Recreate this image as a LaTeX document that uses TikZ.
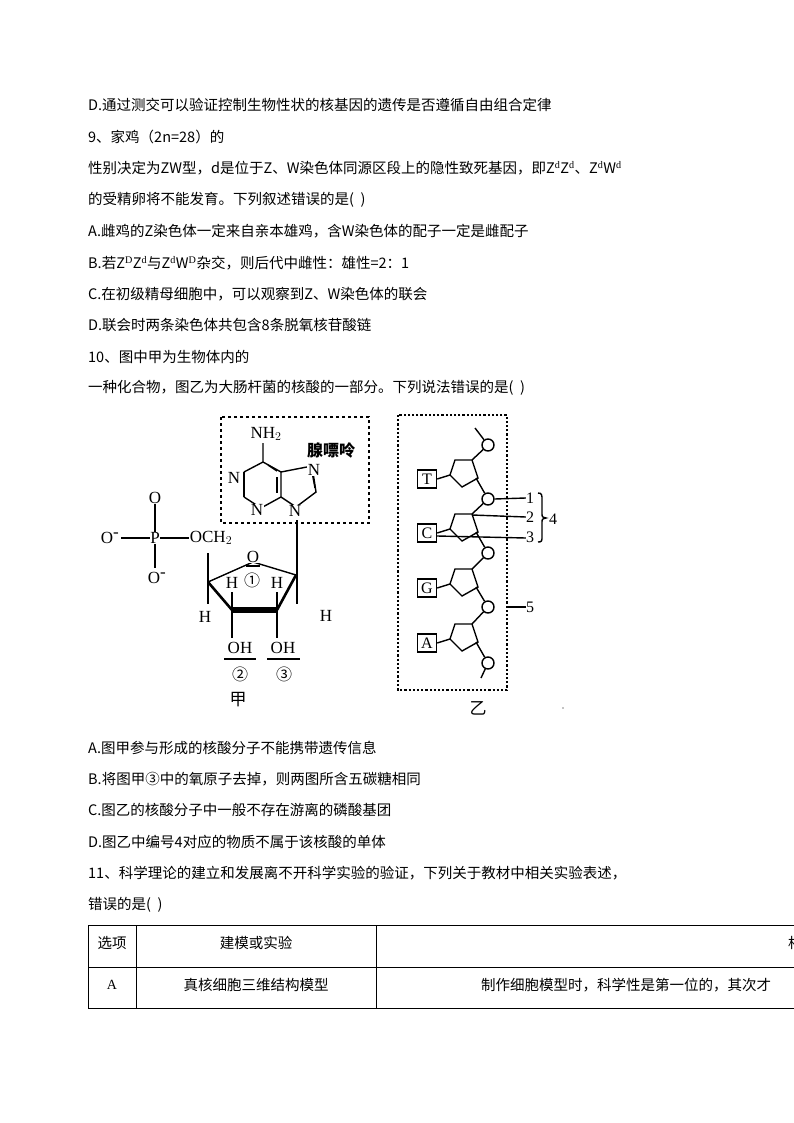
\documentclass[tikz,border=0pt]{standalone}
\usepackage{fontspec}
\setmainfont{Liberation Serif}
\newfontfamily\cjk{Noto Sans CJK SC}
\begin{document}
\begin{tikzpicture}[x=1pt,y=-1pt,
  tx/.style={anchor=west,inner sep=0,font=\cjk\fontsize{14.5}{16}\selectfont},
  ch/.style={inner sep=0,font=\fontsize{17}{17}\selectfont},
  lb/.style={inner sep=0,font=\fontsize{16}{16}\selectfont},
  cn/.style={inner sep=0,font=\cjk\fontsize{16}{16}\selectfont},
  thin/.style={line width=1.4pt},
  pho/.style={circle,draw,line width=1.4pt,minimum size=12pt,inner sep=0},
  base/.style={draw,line width=1.4pt,minimum width=19pt,minimum height=18pt,inner sep=0,font=\fontsize{16}{16}\selectfont}]
\useasboundingbox (0,0) rectangle (794,1123);
\fill[white] (0,0) rectangle (794,1123);
% text lines
\node[tx] (l1) at (88,105) {D.通过测交可以验证控制生物性状的核基因的遗传是否遵循自由组合定律};
\node[tx] (l2) at (88,137) {9、家鸡（2n=28）的};
\node[tx] (l3) at (88,168) {性别决定为ZW型，d是位于Z、W染色体同源区段上的隐性致死基因，即Z$^{\mathrm d}$Z$^{\mathrm d}$、Z$^{\mathrm d}$W$^{\mathrm d}$};
\node[tx] (l4) at (88,200) {的受精卵将不能发育。下列叙述错误的是(\ \ )};
\node[tx] (l5) at (88,231) {A.雌鸡的Z染色体一定来自亲本雄鸡，含W染色体的配子一定是雌配子};
\node[tx] (l6) at (88,263) {B.若Z$^{\mathrm D}$Z$^{\mathrm d}$与Z$^{\mathrm d}$W$^{\mathrm D}$杂交，则后代中雌性：雄性=2：1};
\node[tx] (l7) at (88,294) {C.在初级精母细胞中，可以观察到Z、W染色体的联会};
\node[tx] (l8) at (88,325) {D.联会时两条染色体共包含8条脱氧核苷酸链};
\node[tx] (l9) at (88,357) {10、图中甲为生物体内的};
\node[tx] (l10) at (88,388) {一种化合物，图乙为大肠杆菌的核酸的一部分。下列说法错误的是(\ \ )};
% ---------- 甲 ----------
\draw[dashed,line width=2pt] (221,417) rectangle (369,523);
\node[ch] (nh2) at (266,434) {NH$_2$};
\node[inner sep=0,font=\cjk\bfseries\fontsize{16}{16}\selectfont] (xpl) at (331,450) {腺嘌呤};
\coordinate (c6) at (263,462);
\coordinate (n1) at (244,472);
\coordinate (c2) at (244,497);
\coordinate (n3) at (261,508);
\coordinate (c4) at (281,497);
\coordinate (c5) at (281,472);
\coordinate (n7) at (312,466);
\coordinate (c8) at (316,492);
\coordinate (n9) at (296,507);
\draw[thin] (263,443) -- (c6) -- (n1);
\draw[thin] (c2) -- (n3) -- (c4) -- (c5) -- (c6);
\draw[thin] (n1) -- (c2);
\draw[thin] (c5) -- (n7) -- (c8) -- (n9) -- (c4);
\draw[thin] (268,465) -- (277,471);
\draw[thin] (312,472) -- (315,488);
\draw[thin] (277,477) -- (277,493);
\node[ch,fill=white,inner sep=0.5pt] (tn1) at (234,478) {N};
\node[ch,fill=white,inner sep=0.5pt] (tn3) at (257,510) {N};
\node[ch,fill=white,inner sep=0.5pt] (tn7) at (314,470) {N};
\node[ch,fill=white,inner sep=0.5pt] (tn9) at (295,511) {N};
% sugar
\coordinate (s4) at (208,582);
\coordinate (so) at (253,562);
\coordinate (s1) at (296,575);
\coordinate (s2) at (277,610);
\coordinate (s3) at (232,610);
\draw[thin] (297,520) -- (297,604);
\draw[thin] (s4) -- (so) -- (s1);
\draw[line width=2.6pt] (s4) -- (s3);
\draw[line width=2.6pt] (s1) -- (s2);
\draw[line width=5.5pt] (s3) -- (s2);
\node[ch,fill=white,inner sep=0.5pt] (to) at (253,557) {O};
\draw[thin] (246,566) -- (260,566);
\node[cn] (c1n) at (252,580) {①};
\draw[thin] (208,553) -- (s4) -- (208,604);
\node[ch] (h1) at (205,617) {H};
\node[ch] (h2) at (326,616) {H};
\draw[thin] (s3) -- (232,592);
\draw[thin] (s2) -- (277,592);
\node[ch] (h3) at (232,583) {H};
\node[ch] (h4) at (277,583) {H};
\draw[thin] (s3) -- (232,638);
\draw[thin] (s2) -- (277,638);
\node[ch] (oh1) at (240,648) {OH};
\node[ch] (oh2) at (283,648) {OH};
\draw[thin] (224,659) -- (256,659);
\draw[thin] (267,659) -- (300,659);
\node[cn] (n2) at (240,674) {②};
\node[cn] (n3c) at (284,674) {③};
\node[inner sep=0,font=\cjk\fontsize{17}{17}\selectfont] (jia) at (238,700) {甲};
% phosphate
\node[ch] (och2) at (211,538) {OCH$_2$};
\node[ch] (pp) at (155,538) {P};
\node[ch] (om) at (110,538) {O$^{\mbox{-}}$};
\node[ch] (ot) at (155,498) {O};
\node[ch] (ob) at (157,578) {O$^{\mbox{-}}$};
\draw[line width=2pt] (om.east) ++(2,0) -- (pp.west);
\draw[line width=2pt] (pp.east) -- ([xshift=-1pt]och2.west);
\draw[line width=2.6pt] (ot.south) -- (pp.north);
\draw[thin] (pp.south) -- (155,568);
% ---------- 乙 ----------
\draw[dotted,line width=2.2pt] (398,415) rectangle (507,690);
\foreach \i/\b/\y in {0/T/0,1/C/54,2/G/109,3/A/164}{
  \begin{scope}[yshift=-\y]
  \draw[thin] (455,460) -- (472,460) -- (478,478) -- (462,487) -- (450,475) -- cycle;
  \node[base] (b\i) at (427,479) {\b};
  \draw[thin] (b\i.east) -- (450,475);
  \end{scope}
}
\node[pho] (p0) at (488,445) {};
\node[pho] (p1) at (488,499) {};
\node[pho] (p2) at (488,553) {};
\node[pho] (p3) at (488,607) {};
\node[pho] (p4) at (488,663) {};
\draw[thin] (475,428) -- (p0);
\draw[thin] (p0) -- (472,460);
\draw[thin] (476,478) -- (p1);
\draw[thin] (p1) -- (472,514);
\draw[thin] (476,532) -- (p2);
\draw[thin] (p2) -- (472,569);
\draw[thin] (476,587) -- (p3);
\draw[thin] (p3) -- (472,624);
\draw[thin] (476,642) -- (p4);
\draw[thin] (p4) -- (481,678);
\node[lb] (t1) at (530,498) {1};
\node[lb] (t2) at (530,517) {2};
\node[lb] (t3) at (530,537) {3};
\node[lb] (t5) at (530,607) {5};
\node[lb] (t4) at (553,519) {4};
\draw[thin] (p1.east) -- (t1.west);
\draw[thin] (472,515) -- (t2.west);
\draw[thin] (b1.east) ++(0,3) -- ([yshift=-1pt]t3.west);
\draw[thin] (508,607) -- (t5.west);
\draw[thin] (538,493) .. controls (542,493) and (542,495) .. (542,500) -- (542,513) .. controls (542,517) .. (546,518) .. controls (542,519) .. (542,523) -- (542,536) .. controls (542,541) and (542,542) .. (538,542);
\node[inner sep=0,font=\cjk\fontsize{17}{17}\selectfont] (yi) at (478,708) {乙};
\fill (563,708) circle (0.6);
% options
\node[tx] (a1) at (88,748) {A.图甲参与形成的核酸分子不能携带遗传信息};
\node[tx] (a2) at (88,779) {B.将图甲③中的氧原子去掉，则两图所含五碳糖相同};
\node[tx] (a3) at (88,810) {C.图乙的核酸分子中一般不存在游离的磷酸基团};
\node[tx] (a4) at (88,842) {D.图乙中编号4对应的物质不属于该核酸的单体};
\node[tx] (a5) at (88,873) {11、科学理论的建立和发展离不开科学实验的验证，下列关于教材中相关实验表述，};
\node[tx] (a6) at (88,905) {错误的是(\ \ )};
% table
\begin{scope}
\clip (0,900) rectangle (794,1020);
\draw[line width=0.8pt] (88,925) -- (800,925) (88,967) -- (800,967) (88,1008) -- (800,1008);
\draw[line width=0.8pt] (88,925) -- (88,1008) (136,925) -- (136,1008) (376,925) -- (376,1008);
\node[inner sep=0,font=\cjk\fontsize{14.5}{16}\selectfont] (h1t) at (112,943) {选项};
\node[inner sep=0,font=\cjk\fontsize{14.5}{16}\selectfont] (h2t) at (256,943) {建模或实验};
\node[inner sep=0,anchor=west,font=\cjk\fontsize{14.5}{16}\selectfont] (h3t) at (788,943) {相};
\node[inner sep=0,font=\fontsize{14}{16}\selectfont] (r1a) at (112,985) {A};
\node[inner sep=0,font=\cjk\fontsize{14.5}{16}\selectfont] (r1b) at (256,985) {真核细胞三维结构模型};
\node[inner sep=0,anchor=west,font=\cjk\fontsize{14.5}{16}\selectfont] (r1c) at (481,985) {制作细胞模型时，科学性是第一位的，其次才};
\end{scope}
\end{tikzpicture}
\end{document}
